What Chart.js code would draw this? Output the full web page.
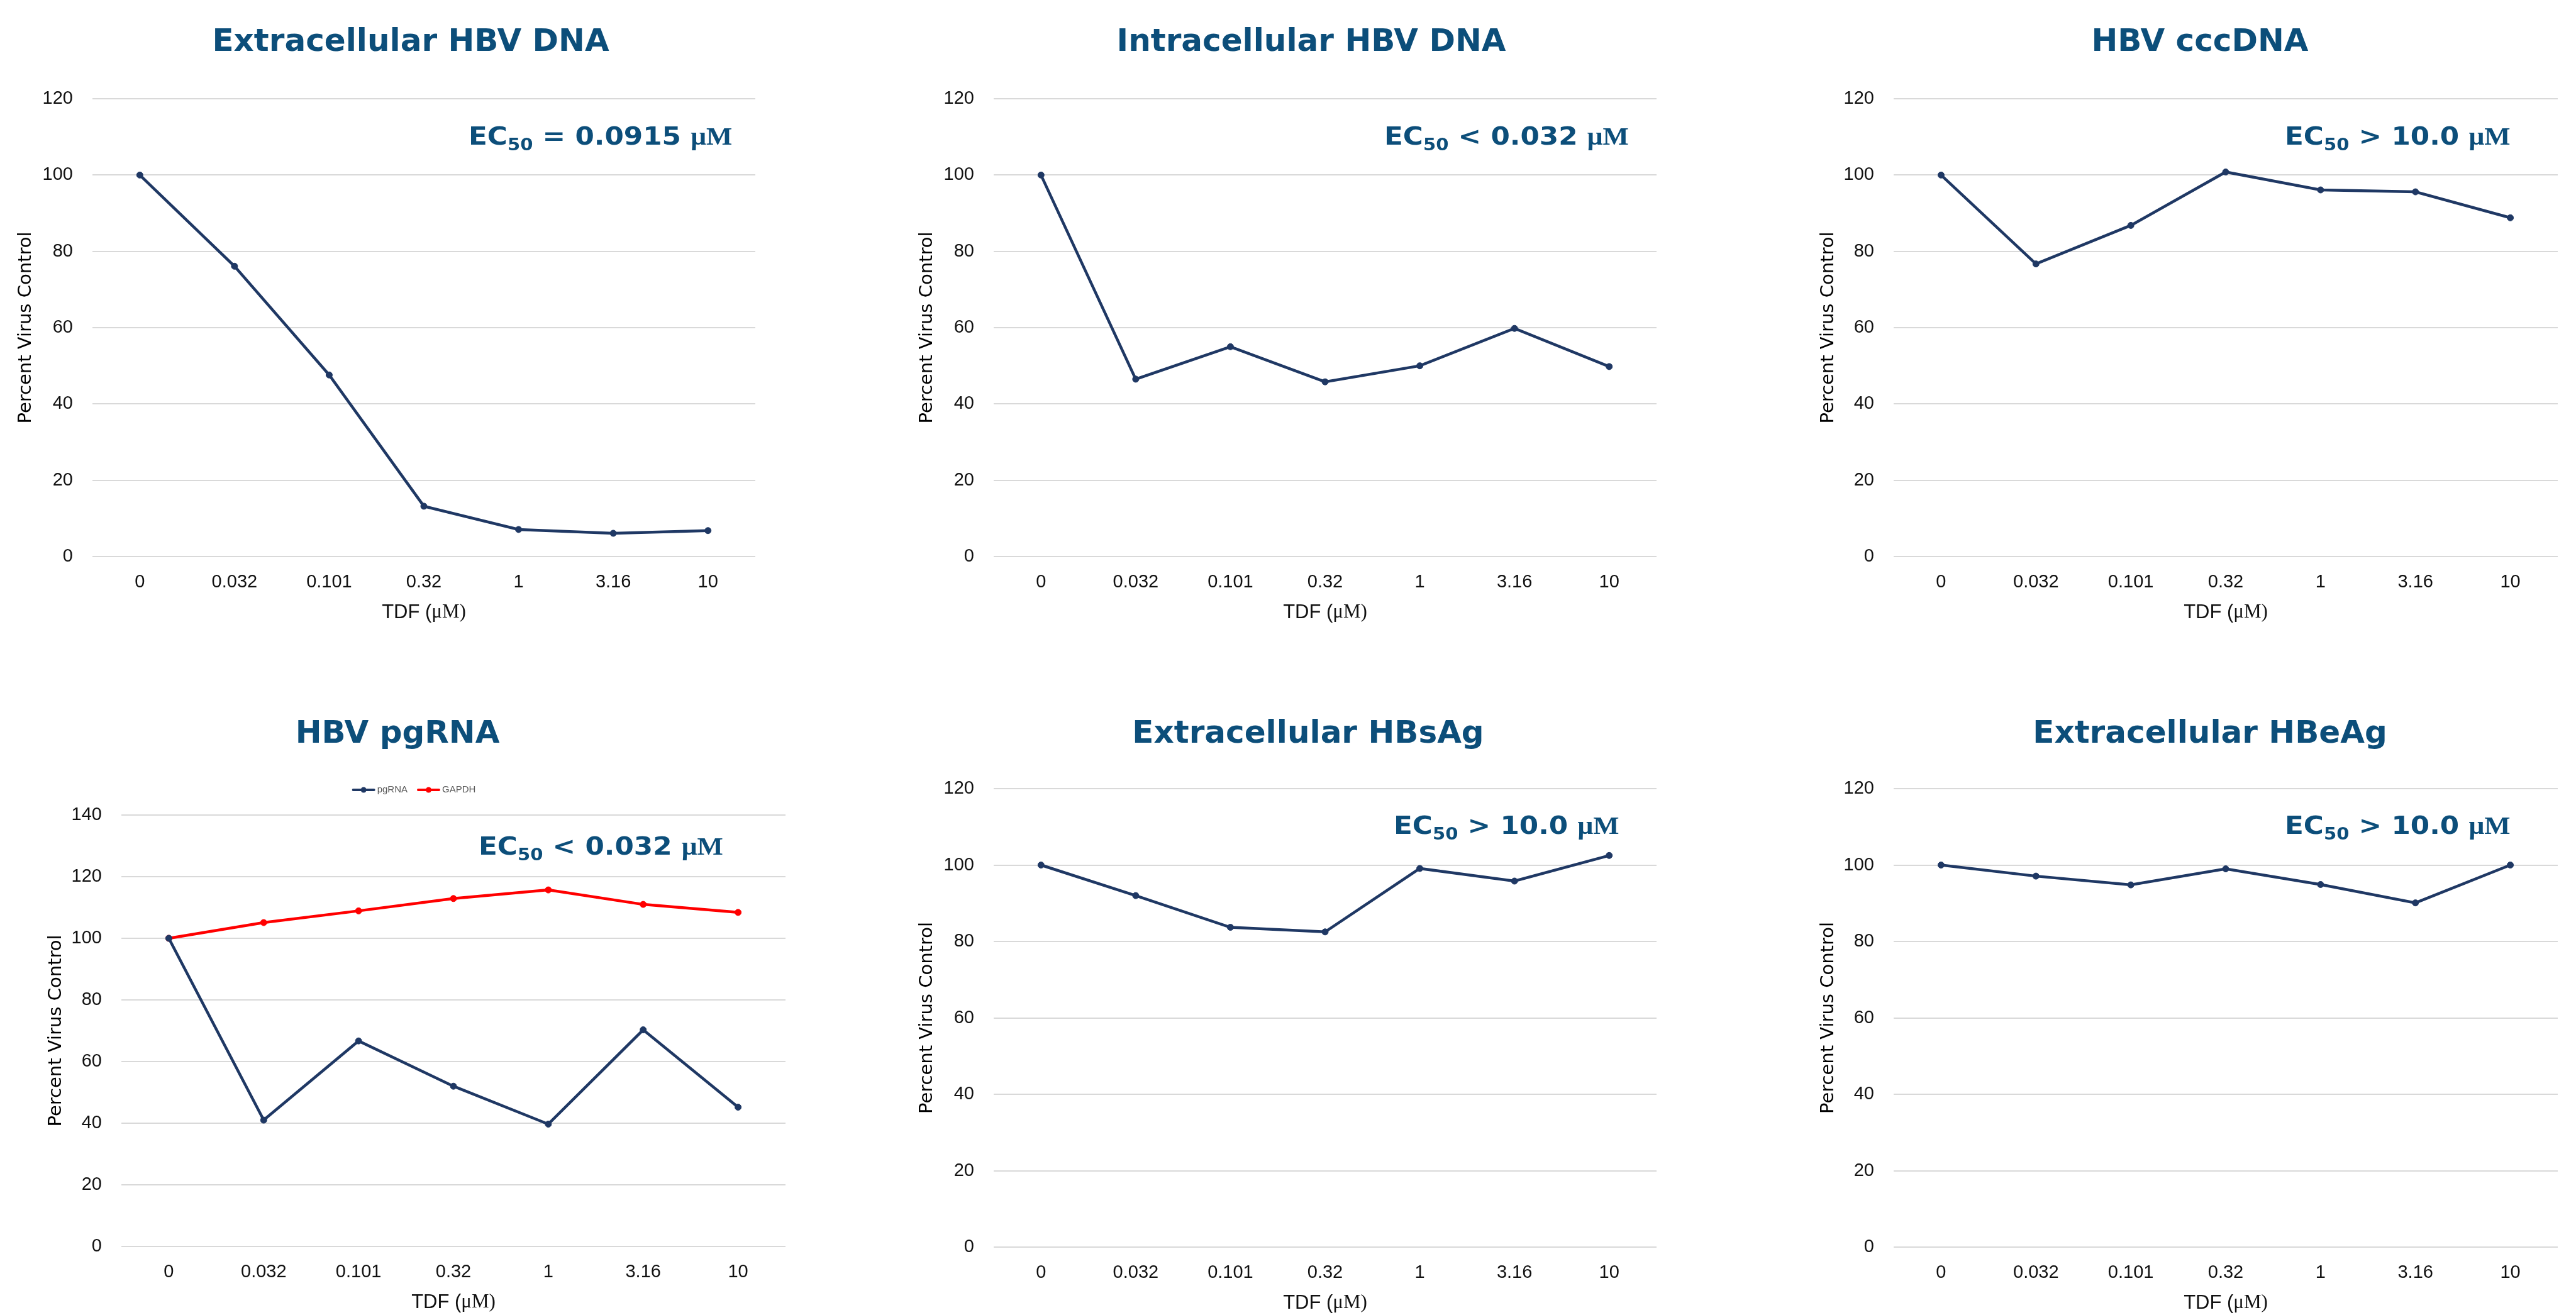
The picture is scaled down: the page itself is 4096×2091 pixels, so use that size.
<!DOCTYPE html>
<html>
<head>
<meta charset="utf-8">
<script src="https://cdn.jsdelivr.net/npm/chart.js@4.4.1/dist/chart.umd.min.js"></script>
<style>
  html, body { margin: 0; padding: 0; background: #fff; }
  body { width: 4096px; height: 2091px; position: relative; overflow: hidden; }
  canvas { position: absolute; }
</style>
</head>
<body>
<script>
// doses on the x axis
const doses = ["0", "0.032", "0.101", "0.32", "1", "3.16", "10"];

// percent of virus control
const extraDna = [100, 76.1, 47.6, 13.2, 7.1, 6.1, 6.8];
const intraDna = [100, 46.5, 55.0, 45.8, 50.0, 59.8, 49.8];
const cccDna   = [100, 76.7, 86.8, 100.8, 96.1, 95.6, 88.8];
const pgRna    = [100, 41.0, 66.7, 52.0, 39.7, 70.3, 45.2];
const gapdh    = [100, 105.1, 108.9, 112.9, 115.7, 111.0, 108.4];
const hbsAg    = [100, 92.0, 83.7, 82.5, 99.1, 95.8, 102.5];
const hbeAg    = [100, 97.1, 94.8, 99.0, 94.9, 90.1, 100.0];

const titles = ["Extracellular HBV DNA", "Intracellular HBV DNA", "HBV cccDNA",
                "HBV pgRNA", "Extracellular HBsAg", "Extracellular HBeAg"];
const ec50 = ["= 0.0915", "< 0.032", "> 10.0", "< 0.032", "> 10.0", "> 10.0"];
const yMax = [120, 120, 120, 140, 120, 120];

const NAVY = "#1F3864";
const BLUE_TEXT = "#0C4E7A";
const GRID = "#D9D9D9";

// page layout of each panel (canvas box, plot area, text anchors), window pixels
const panels = [
  { x: 0,    y: 0,    w: 1420, h: 1030, area: [147, 157, 1201, 885],   tx: 653,  ty: 81,   ex: 745,  ey: 230 },
  { x: 1433, y: 0,    w: 1428, h: 1030, area: [1580, 157, 2634, 885],  tx: 2085, ty: 81,   ex: 2201, ey: 230 },
  { x: 2866, y: 0,    w: 1230, h: 1030, area: [3011, 157, 4067, 885],  tx: 3498, ty: 81,   ex: 3633, ey: 230 },
  { x: 48,   y: 1035, w: 1385, h: 1056, area: [193, 1296, 1249, 1982], tx: 632,  ty: 1181, ex: 761,  ey: 1359, legend: [658, 1256] },
  { x: 1433, y: 1035, w: 1428, h: 1056, area: [1580, 1254, 2634, 1983], tx: 2080, ty: 1181, ex: 2216, ey: 1326 },
  { x: 2866, y: 1035, w: 1230, h: 1056, area: [3011, 1254, 4067, 1983], tx: 3514, ty: 1181, ex: 3633, ey: 1326 }
];

function drawEc50(ctx, text, x, y) {
  const size = 39;
  ctx.save();
  ctx.translate(x, y);
  ctx.scale(1.12, 1);
  ctx.textAlign = "left";
  ctx.textBaseline = "alphabetic";
  let cx = 0;
  ctx.font = `bold ${size}px "DejaVu Sans"`;
  ctx.fillText("EC", cx, 0);
  cx += ctx.measureText("EC").width;
  ctx.font = `bold ${Math.round(size * 0.66)}px "DejaVu Sans"`;
  ctx.fillText("50", cx, size * 0.22);
  cx += ctx.measureText("50").width;
  ctx.font = `bold ${size}px "DejaVu Sans"`;
  const mid = " " + text + " ";
  ctx.fillText(mid, cx, 0);
  cx += ctx.measureText(mid).width;
  ctx.font = `bold ${size}px "Liberation Serif"`;
  ctx.fillText("\u03bcM", cx, 0);
  ctx.restore();
}

function drawXTitle(ctx, cx, cy) {
  ctx.save();
  ctx.textBaseline = "middle";
  ctx.textAlign = "left";
  ctx.fillStyle = "#111";
  const a = "TDF (", b = "\u03bcM)";
  ctx.font = '31px "Liberation Sans"';
  const wa = ctx.measureText(a).width;
  ctx.font = '31px "Liberation Serif"';
  const wb = ctx.measureText(b).width;
  let x = cx - (wa + wb) / 2;
  ctx.font = '31px "Liberation Sans"';
  ctx.fillText(a, x, cy);
  ctx.font = '31px "Liberation Serif"';
  ctx.fillText(b, x + wa, cy);
  ctx.restore();
}

function drawLegend(ctx, chart, cx, cy) {
  ctx.save();
  ctx.font = '15px "Liberation Sans"';
  ctx.textBaseline = "middle";
  ctx.textAlign = "left";
  const lineLen = 37, gap = 3, itemGap = 15;
  const items = chart.data.datasets.map(d => ({ text: d.label, color: d.borderColor }));
  const widths = items.map(it => lineLen + gap + ctx.measureText(it.text).width);
  const total = widths.reduce((s, w) => s + w, 0) + itemGap * (items.length - 1);
  let x = cx - total / 2;
  items.forEach((it, k) => {
    ctx.strokeStyle = it.color;
    ctx.fillStyle = it.color;
    ctx.lineWidth = 4;
    ctx.lineCap = "round";
    ctx.beginPath();
    ctx.moveTo(x + 2, cy);
    ctx.lineTo(x + lineLen - 2, cy);
    ctx.stroke();
    ctx.beginPath();
    ctx.arc(x + lineLen / 2, cy, 4.5, 0, Math.PI * 2);
    ctx.fill();
    ctx.fillStyle = "#595959";
    ctx.fillText(it.text, x + lineLen + gap, cy);
    x += widths[k] + itemGap;
  });
  ctx.restore();
}

const panelText = {
  id: "panelText",
  afterDraw(chart, args, opts) {
    const i = opts.index;
    const p = panels[i];
    const ctx = chart.ctx;
    ctx.save();
    ctx.fillStyle = BLUE_TEXT;
    ctx.textAlign = "center";
    ctx.textBaseline = "alphabetic";
    ctx.font = 'bold 50px "DejaVu Sans"';
    ctx.fillText(titles[i], p.tx - p.x, p.ty - p.y);
    drawEc50(ctx, ec50[i], p.ex - p.x, p.ey - p.y);
    ctx.restore();
    const area = chart.chartArea;
    drawXTitle(ctx, (area.left + area.right) / 2, area.bottom + 89);
    if (p.legend) drawLegend(ctx, chart, p.legend[0] - p.x, p.legend[1] - p.y);
  }
};

function series(label, values, color) {
  return {
    label: label,
    data: values,
    borderColor: color,
    backgroundColor: color,
    borderWidth: 4.5,
    pointRadius: 5,
    pointBackgroundColor: color,
    pointBorderColor: color,
    pointBorderWidth: 1,
    tension: 0,
    fill: false
  };
}

function makeChart(i, datasets) {
  const p = panels[i];
  const [L, T, R, B] = p.area;
  const canvas = document.createElement("canvas");
  canvas.width = p.w;
  canvas.height = p.h;
  canvas.style.left = p.x + "px";
  canvas.style.top = p.y + "px";
  document.body.appendChild(canvas);

  new Chart(canvas.getContext("2d"), {
    type: "line",
    data: { labels: doses, datasets: datasets },
    options: {
      responsive: false,
      animation: false,
      layout: { padding: { left: 0, top: T - p.y, right: p.x + p.w - R, bottom: 0 } },
      plugins: {
        legend: { display: false },
        tooltip: { enabled: false },
        panelText: { index: i }
      },
      scales: {
        x: {
          offset: true,
          grid: { display: false, drawTicks: false },
          border: { display: false },
          ticks: {
            autoSkip: false,
            maxRotation: 0,
            padding: 24,
            color: "#111",
            font: { family: "Liberation Sans", size: 29 }
          },
          afterFit: s => { s.height = p.y + p.h - B; }
        },
        y: {
          min: 0,
          max: yMax[i],
          grid: { color: GRID, lineWidth: 2, drawTicks: false },
          border: { display: false },
          ticks: {
            stepSize: 20,
            padding: 31,
            color: "#111",
            font: { family: "Liberation Sans", size: 29 }
          },
          title: {
            display: true,
            text: "Percent Virus Control",
            color: "#000",
            padding: { top: 24, bottom: 0 },
            font: { family: "DejaVu Sans", size: 29 }
          },
          afterFit: s => { s.width = L - p.x; }
        }
      }
    },
    plugins: [panelText]
  });
}

makeChart(0, [series("Extracellular HBV DNA", extraDna, NAVY)]);
makeChart(1, [series("Intracellular HBV DNA", intraDna, NAVY)]);
makeChart(2, [series("HBV cccDNA", cccDna, NAVY)]);
makeChart(3, [series("pgRNA", pgRna, NAVY), series("GAPDH", gapdh, "#FF0000")]);
makeChart(4, [series("Extracellular HBsAg", hbsAg, NAVY)]);
makeChart(5, [series("Extracellular HBeAg", hbeAg, NAVY)]);
</script>
</body>
</html>
